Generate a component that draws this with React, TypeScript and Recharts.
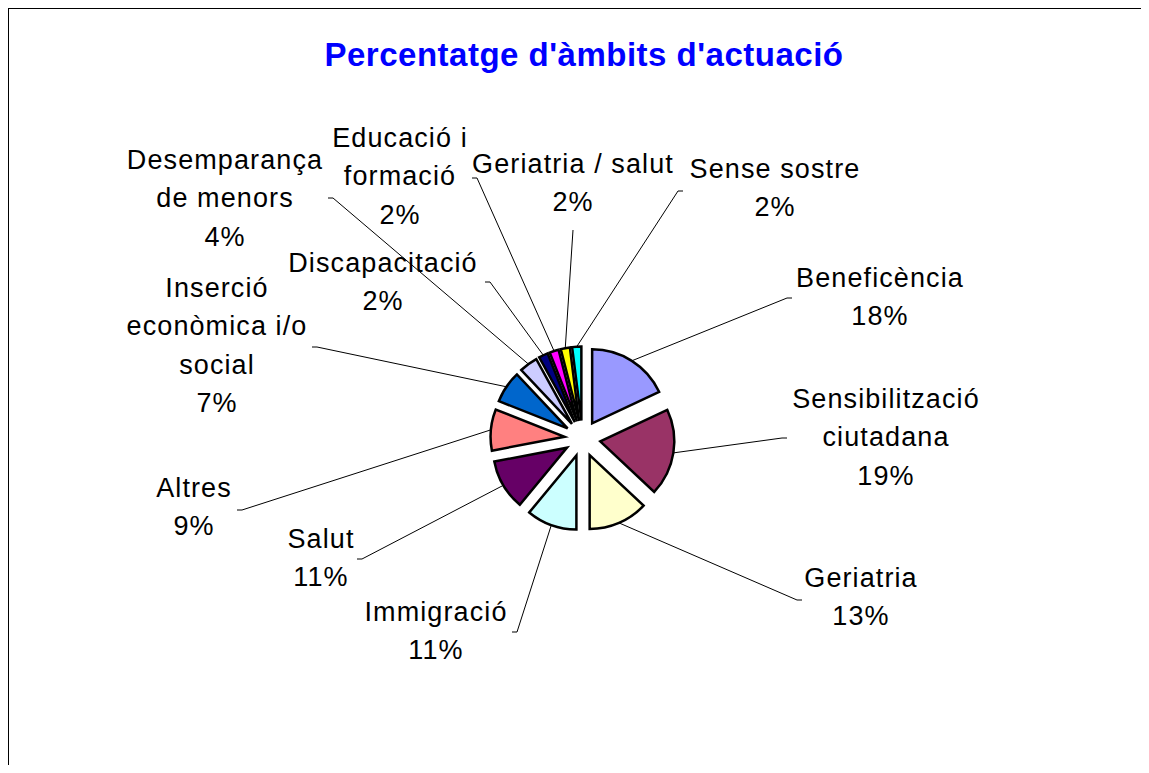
import React from "react";
import { PieChart, Pie, Cell, Sector } from "recharts";

// dades llegides del gràfic
const categories = [
  "Beneficència",
  "Sensibilització\nciutadana",
  "Geriatria",
  "Immigració",
  "Salut",
  "Altres",
  "Inserció\neconòmica i/o\nsocial",
  "Desemparança\nde menors",
  "Discapacitació",
  "Educació i\nformació",
  "Geriatria / salut",
  "Sense sostre",
];
const values = [18, 19, 13, 11, 11, 9, 7, 4, 2, 2, 2, 2];
const colors = [
  "#9999FF",
  "#993366",
  "#FFFFCC",
  "#CCFFFF",
  "#660066",
  "#FF8080",
  "#0066CC",
  "#CCCCFF",
  "#000080",
  "#FF00FF",
  "#FFFF00",
  "#00FFFF",
];

// posicio de cada etiqueta (centre del text, primera linia) i punt de la linia guia
const labelPos = [
  { x: 880, y: 287, ax: 787, ay: 298, stub: 5 },
  { x: 886, y: 408, ax: 782, ay: 438, stub: 5 },
  { x: 861, y: 587, ax: 797, ay: 600, stub: 5 },
  { x: 436, y: 621, ax: 517, ay: 632, stub: -5 },
  { x: 321, y: 548, ax: 362, ay: 559, stub: -5 },
  { x: 194, y: 497, ax: 242, ay: 510, stub: -5 },
  { x: 217, y: 297, ax: 317, ay: 347, stub: -5 },
  { x: 225, y: 169, ax: 333, ay: 198, stub: -5 },
  { x: 383, y: 272, ax: 490, ay: 282, stub: -5 },
  { x: 400, y: 147, ax: 477, ay: 178, stub: -5 },
  { x: 573, y: 173, ax: 573, ay: 230, stub: 0 },
  { x: 775, y: 178, ax: 678, ay: 191, stub: 5 },
];

const data = categories.map((name, i) => ({ name, value: values[i] }));
const total = values.reduce((a, b) => a + b, 0);

const CX = 577.5;
const CY = 433.5;
const R = 74;
const EXPLODE = 18;
const LINE_H = 38.3;
const RADIAN = Math.PI / 180;

const ExplodedSector = (props: any) => {
  const { cx, cy, midAngle } = props;
  const dx = EXPLODE * Math.cos(-midAngle * RADIAN);
  const dy = EXPLODE * Math.sin(-midAngle * RADIAN);
  return <Sector {...props} cx={cx + dx} cy={cy + dy} />;
};

const renderLabel = (props: any) => {
  const { cx, cy, midAngle, outerRadius, index } = props;
  const pos = labelPos[index];
  const cos = Math.cos(-midAngle * RADIAN);
  const sin = Math.sin(-midAngle * RADIAN);
  const px = cx + (EXPLODE + outerRadius) * cos;
  const py = cy + (EXPLODE + outerRadius) * sin;
  const lines = categories[index].split("\n");
  const pct = Math.round((values[index] / total) * 100);
  return (
    <g key={`lbl-${index}`}>
      <polyline
        points={`${px},${py} ${pos.ax},${pos.ay} ${pos.ax + pos.stub},${pos.ay}`}
        fill="none"
        stroke="#000"
        strokeWidth={1}
      />
      <text
        textAnchor="middle"
        fontSize={27}
        letterSpacing={1.1}
        fontFamily="'Liberation Sans', Arial, sans-serif"
        fill="#000"
      >
        {lines.map((l, i) => (
          <tspan key={i} x={pos.x} y={pos.y + i * LINE_H}>
            {l}
          </tspan>
        ))}
        <tspan x={pos.x} y={pos.y + lines.length * LINE_H}>
          {pct}%
        </tspan>
      </text>
    </g>
  );
};

export default function App() {
  return (
    <div
      style={{
        position: "relative",
        width: 1170,
        height: 773,
        margin: -8,
        overflow: "hidden",
        background: "#fff",
      }}
    >
      <div style={{ position: "absolute", left: 0, top: 0 }}>
        <PieChart width={1149} height={773}>
          <Pie
            data={data}
            dataKey="value"
            nameKey="name"
            cx={CX}
            cy={CY}
            outerRadius={R}
            startAngle={90}
            endAngle={-270}
            stroke="#000"
            strokeWidth={2.5}
            isAnimationActive={false}
            label={renderLabel}
            labelLine={false}
            shape={ExplodedSector}
            activeShape={ExplodedSector}
          >
            {data.map((d, i) => (
              <Cell key={d.name} fill={colors[i]} stroke="#000" />
            ))}
          </Pie>
        </PieChart>
      </div>
      <svg
        width={1170}
        height={773}
        style={{ position: "absolute", left: 0, top: 0, pointerEvents: "none" }}
      >
        {/* marc de l'àrea del gràfic */}
        <rect x={8} y={8} width={1200} height={900} fill="none" stroke="#000" strokeWidth={2} />
        <text
          x={584}
          y={66}
          textAnchor="middle"
          fontSize={33}
          fontWeight="bold"
          letterSpacing={0.5}
          fill="#0000FF"
          fontFamily="'Liberation Sans', Arial, sans-serif"
        >
          Percentatge d'àmbits d'actuació
        </text>
      </svg>
    </div>
  );
}
